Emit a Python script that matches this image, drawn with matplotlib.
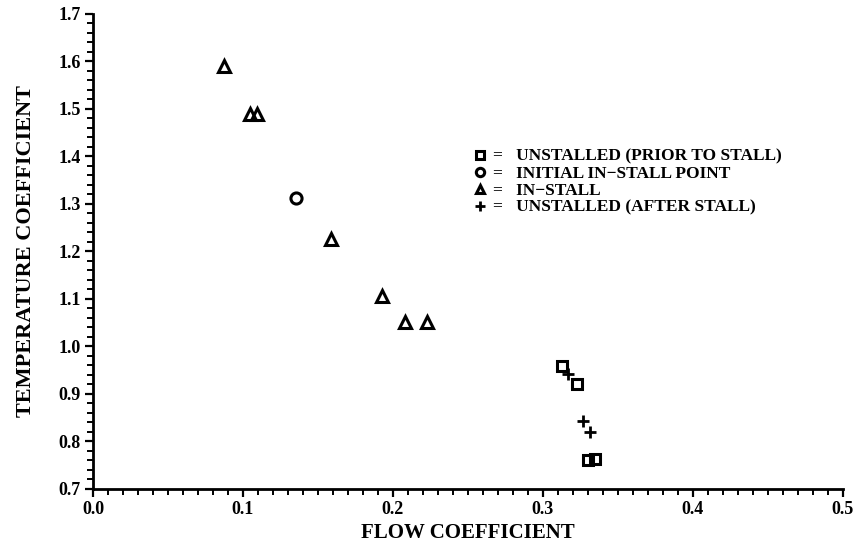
import matplotlib
matplotlib.use("Agg")
import matplotlib.pyplot as plt
from matplotlib.ticker import MultipleLocator, FormatStrFormatter

# Compressor stall test: temperature coefficient vs flow coefficient
prior_flow = [0.3124, 0.3224, 0.3302, 0.3347]
prior_temp = [0.959, 0.920, 0.761, 0.763]

initial_flow = [0.1353]
initial_temp = [1.312]

stall_flow = [0.0873, 0.1047, 0.1093, 0.1587, 0.1924, 0.2080, 0.2229]
stall_temp = [1.5905, 1.4895, 1.4895, 1.2263, 1.1063, 1.0520, 1.0516]

after_flow = [0.3169, 0.3269, 0.3313]
after_temp = [0.9415, 0.843, 0.819]

labels = [
    "UNSTALLED (PRIOR TO STALL)",
    "INITIAL IN\u2212STALL POINT",
    "IN\u2212STALL",
    "UNSTALLED (AFTER STALL)",
]

serif = ["Liberation Serif", "DejaVu Serif"]
plt.rcParams["font.family"] = serif
plt.rcParams["font.weight"] = "bold"

fig = plt.figure(figsize=(8.61, 5.45), dpi=100)
ax = fig.add_axes([0.108, 0.1028, 0.871, 0.8716])

mk = dict(linestyle="none", color="black", markerfacecolor="none",
          markeredgewidth=2.2)
ax.plot(prior_flow, prior_temp, marker="s", markersize=7, label="=   " + labels[0], **mk)
ax.plot(initial_flow, initial_temp, marker="o", markersize=8, label="=   " + labels[1], **mk)
ax.plot(stall_flow, stall_temp, marker="^", markersize=8, label="=   " + labels[2], **mk)
ax.plot(after_flow, after_temp, marker="+", markersize=9, linestyle="none",
        color="black", markeredgewidth=2.0, label="=   " + labels[3])

ax.set_xlim(0.0, 0.5)
ax.set_ylim(0.7, 1.7)
ax.xaxis.set_major_locator(MultipleLocator(0.1))
ax.xaxis.set_minor_locator(MultipleLocator(0.01))
ax.yaxis.set_major_locator(MultipleLocator(0.1))
ax.yaxis.set_minor_locator(MultipleLocator(0.02))
ax.xaxis.set_major_formatter(FormatStrFormatter("%.1f"))
ax.yaxis.set_major_formatter(FormatStrFormatter("%.1f"))

for side in ("top", "right"):
    ax.spines[side].set_visible(False)
for side in ("left", "bottom"):
    ax.spines[side].set_linewidth(2.0)

ax.tick_params(which="major", direction="out", length=6, width=1.6,
               labelsize=13, pad=3)
ax.tick_params(which="minor", direction="out", length=4, width=1.4)
for lab in ax.get_xticklabels() + ax.get_yticklabels():
    lab.set_fontweight("bold")

ax.set_xlabel("FLOW COEFFICIENT", fontsize=15, fontweight="bold", labelpad=3)
ax.set_ylabel("TEMPERATURE COEFFICIENT", fontsize=16, fontweight="bold", labelpad=16)

leg = ax.legend(loc="upper left", bbox_to_anchor=(0.497, 0.735), frameon=False,
                fontsize=12.5, handlelength=0.6, handletextpad=0.45,
                labelspacing=0.05, borderpad=0, markerscale=0.75)
for t in leg.get_texts():
    t.set_fontweight("bold")

fig.savefig("out.png", dpi=100)
